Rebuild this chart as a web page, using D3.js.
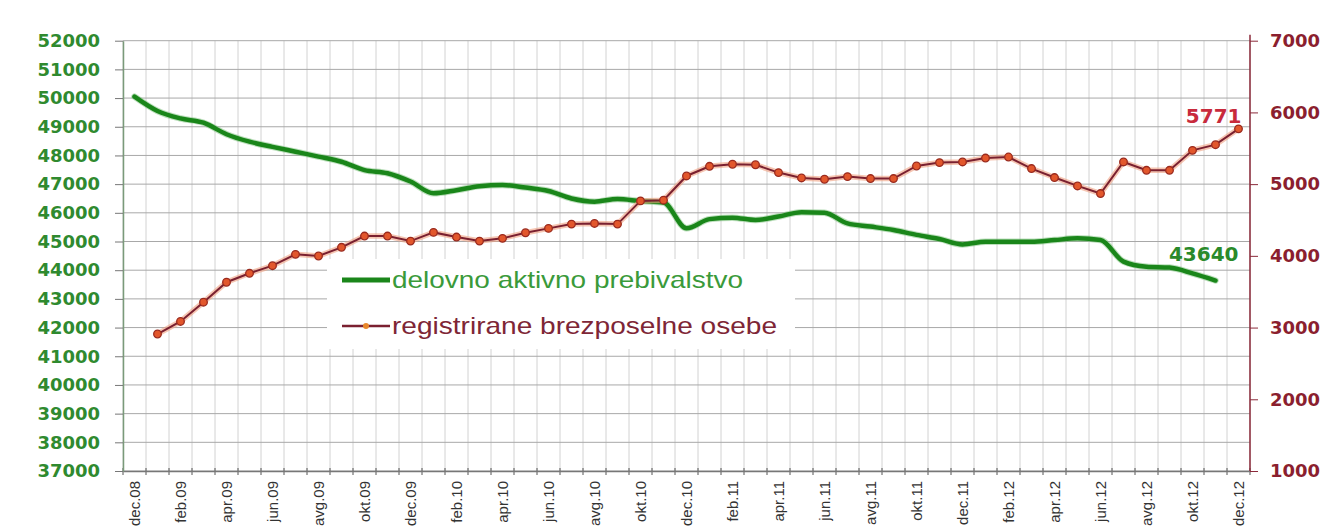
<!DOCTYPE html>
<html><head><meta charset="utf-8">
<script src="https://cdn.jsdelivr.net/npm/d3@7"></script>
<style>body{margin:0;background:#fff}svg{display:block}</style>
</head><body><svg id="c" width="1336" height="528"></svg>
<script>
const months = ["dec.08","jan.09","feb.09","mar.09","apr.09","maj.09","jun.09","jul.09","avg.09","sep.09","okt.09","nov.09",
"dec.09","jan.10","feb.10","mar.10","apr.10","maj.10","jun.10","jul.10","avg.10","sep.10","okt.10","nov.10",
"dec.10","jan.11","feb.11","mar.11","apr.11","maj.11","jun.11","jul.11","avg.11","sep.11","okt.11","nov.11",
"dec.11","jan.12","feb.12","mar.12","apr.12","maj.12","jun.12","jul.12","avg.12","sep.12","okt.12","nov.12","dec.12"];
const tickLabels = ["dec.08","feb.09","apr.09","jun.09","avg.09","okt.09","dec.09","feb.10","apr.10","jun.10","avg.10","okt.10",
"dec.10","feb.11","apr.11","jun.11","avg.11","okt.11","dec.11","feb.12","apr.12","jun.12","avg.12","okt.12","dec.12"];
// delovno aktivno prebivalstvo: dec.08 - nov.12
const activePop = [50050,49550,49290,49140,48740,48480,48300,48130,47960,47780,47490,47380,
47090,46680,46790,46930,46970,46880,46760,46500,46390,46480,46410,46360,
45460,45780,45830,45750,45870,46020,46000,45630,45520,45400,45230,45090,
44900,44990,44990,44990,45050,45110,45050,44300,44120,44090,43890,43640];
// registrirane brezposelne osebe: jan.09 - dec.12
const unemployed = [2910,3085,3354,3632,3757,3863,4021,3998,4119,4276,4276,4206,
4327,4262,4206,4244,4322,4383,4443,4452,4443,4766,4776,5114,
5249,5277,5270,5161,5086,5068,5105,5078,5078,5253,5300,5309,
5364,5378,5217,5092,4975,4869,5309,5193,5193,5471,5550,5771];
const leftTicks = [37000,38000,39000,40000,41000,42000,43000,44000,45000,46000,47000,48000,49000,50000,51000,52000];
const rightTicks = [1000,2000,3000,4000,5000,6000,7000];
const legendLabels = ["delovno aktivno prebivalstvo","registrirane brezposelne osebe"];
const endLabels = ["43640","5771"];

const activeMonths = months.slice(0, activePop.length);
const unempMonths = months.slice(months.length - unemployed.length);

const W = 1336, H = 528, m = {l:123, r:86, t:40.7, b:57};
const svg = d3.select("#c");
const x = d3.scaleBand().domain(months).range([m.l, W - m.r]).padding(0);
const yL = d3.scaleLinear().domain([37000, 52000]).range([H - m.b, m.t]);
const yR = d3.scaleLinear().domain([1000, 7000]).range([H - m.b, m.t]);
const cx = d => x(d) + x.bandwidth() / 2;
const bottom = H - m.b;

// vertical grid at month boundaries
const bounds = months.map(d => x(d)).concat([W - m.r]);
svg.append("g").selectAll("line").data(bounds).join("line")
  .attr("x1", d => d).attr("x2", d => d).attr("y1", m.t).attr("y2", bottom)
  .attr("stroke", "#d2d2d2").attr("stroke-width", 1);
// horizontal grid
svg.append("g").selectAll("line").data(leftTicks).join("line")
  .attr("x1", m.l).attr("x2", W - m.r).attr("y1", d => yL(d)).attr("y2", d => yL(d))
  .attr("stroke", "#a8a8a8").attr("stroke-width", 1);
// bottom ticks at boundaries
svg.append("g").selectAll("line").data(bounds).join("line")
  .attr("x1", d => d).attr("x2", d => d).attr("y1", bottom - 3).attr("y2", bottom + 4)
  .attr("stroke", "#555").attr("stroke-width", 1);

// x axis labels
const gx = svg.append("g").attr("transform", `translate(0,${bottom})`)
  .call(d3.axisBottom(x).tickValues(tickLabels).tickSize(0).tickSizeOuter(0));
gx.select(".domain").attr("stroke", "#777").attr("stroke-width", 1.5);
gx.selectAll("text").attr("transform", "rotate(-90)").attr("text-anchor", "end")
  .attr("x", -10).attr("y", 0).attr("dy", "0.35em")
  .attr("fill", "#333").style("font", "15px 'Liberation Sans', Arial, sans-serif");

// left axis
const gl = svg.append("g").attr("transform", `translate(${m.l},0)`)
  .call(d3.axisLeft(yL).tickValues(leftTicks).tickSize(8).tickPadding(15).tickSizeOuter(0).tickFormat(d3.format("d")));
gl.select(".domain").attr("stroke", "#7a9a7a").attr("stroke-width", 1.5);
gl.selectAll(".tick line").attr("stroke", "#777");
gl.selectAll("text").attr("fill", "#2f8a2f").style("font", "bold 18px 'DejaVu Sans', sans-serif");

// right axis
const gr = svg.append("g").attr("transform", `translate(${W - m.r},0)`)
  .call(d3.axisRight(yR).tickValues(rightTicks).tickSize(8).tickPadding(12).tickSizeOuter(0).tickFormat(d3.format("d")));
gr.select(".domain").attr("stroke", "#8b2a3a").attr("stroke-width", 1.5).attr("d", `M0,${m.t - 6}V${bottom}`);
gr.selectAll(".tick line").attr("stroke", "#8b2a3a");
gr.selectAll("text").attr("fill", "#8b1f2f").style("font", "bold 18px 'DejaVu Sans', sans-serif");

// green line
const lineG = d3.line().x((d, i) => cx(activeMonths[i])).y(d => yL(d)).curve(d3.curveMonotoneX);
svg.append("path").datum(activePop).attr("d", lineG).attr("fill", "none")
  .attr("stroke", "#7cc27c").attr("stroke-width", 6.5).attr("stroke-opacity", 0.5).attr("stroke-linecap", "round");
svg.append("path").datum(activePop).attr("d", lineG).attr("fill", "none")
  .attr("stroke", "#1a861a").attr("stroke-width", 4.5).attr("stroke-linecap", "round");

// red line
const lineR = d3.line().x((d, i) => cx(unempMonths[i])).y(d => yR(d));
svg.append("path").datum(unemployed).attr("d", lineR).attr("fill", "none")
  .attr("stroke", "#f0a080").attr("stroke-width", 5.5).attr("stroke-opacity", 0.6);
svg.append("path").datum(unemployed).attr("d", lineR).attr("fill", "none")
  .attr("stroke", "#7a2030").attr("stroke-width", 2);
svg.append("g").selectAll("circle").data(unemployed).join("circle")
  .attr("cx", (d, i) => cx(unempMonths[i])).attr("cy", d => yR(d)).attr("r", 3.8)
  .attr("fill", "#e2572c").attr("stroke", "#9a2a1e").attr("stroke-width", 1.3);

// end labels
svg.append("text").attr("x", cx(activeMonths[activeMonths.length - 1]) + 23)
  .attr("y", yL(activePop[activePop.length - 1]) - 20).attr("text-anchor", "end")
  .attr("fill", "#2a8a2a").style("font", "bold 20px 'DejaVu Sans', sans-serif").text(endLabels[0]);
svg.append("text").attr("x", cx(unempMonths[unempMonths.length - 1]) + 3)
  .attr("y", yR(unemployed[unemployed.length - 1]) - 6).attr("text-anchor", "end")
  .attr("fill", "#c82a3c").style("font", "bold 20px 'DejaVu Sans', sans-serif").text(endLabels[1]);

// legend
const lg = svg.append("g");
lg.append("rect").attr("x", 327).attr("y", 259).attr("width", 468).attr("height", 90).attr("fill", "#fff");
lg.append("line").attr("x1", 342).attr("x2", 390).attr("y1", 280).attr("y2", 280)
  .attr("stroke", "#1a861a").attr("stroke-width", 5);
lg.append("text").attr("x", 392).attr("y", 288).attr("fill", "#3a9a3a")
  .attr("textLength", 351).attr("lengthAdjust", "spacingAndGlyphs")
  .style("font", "24px 'Liberation Sans', Arial, sans-serif").text(legendLabels[0]);
lg.append("line").attr("x1", 342).attr("x2", 390).attr("y1", 326).attr("y2", 326)
  .attr("stroke", "#7a2030").attr("stroke-width", 2.5);
lg.append("circle").attr("cx", 366).attr("cy", 326).attr("r", 3).attr("fill", "#e8882c");
lg.append("text").attr("x", 392).attr("y", 334).attr("fill", "#7e2636")
  .attr("textLength", 385).attr("lengthAdjust", "spacingAndGlyphs")
  .style("font", "24px 'Liberation Sans', Arial, sans-serif").text(legendLabels[1]);
</script></body></html>
